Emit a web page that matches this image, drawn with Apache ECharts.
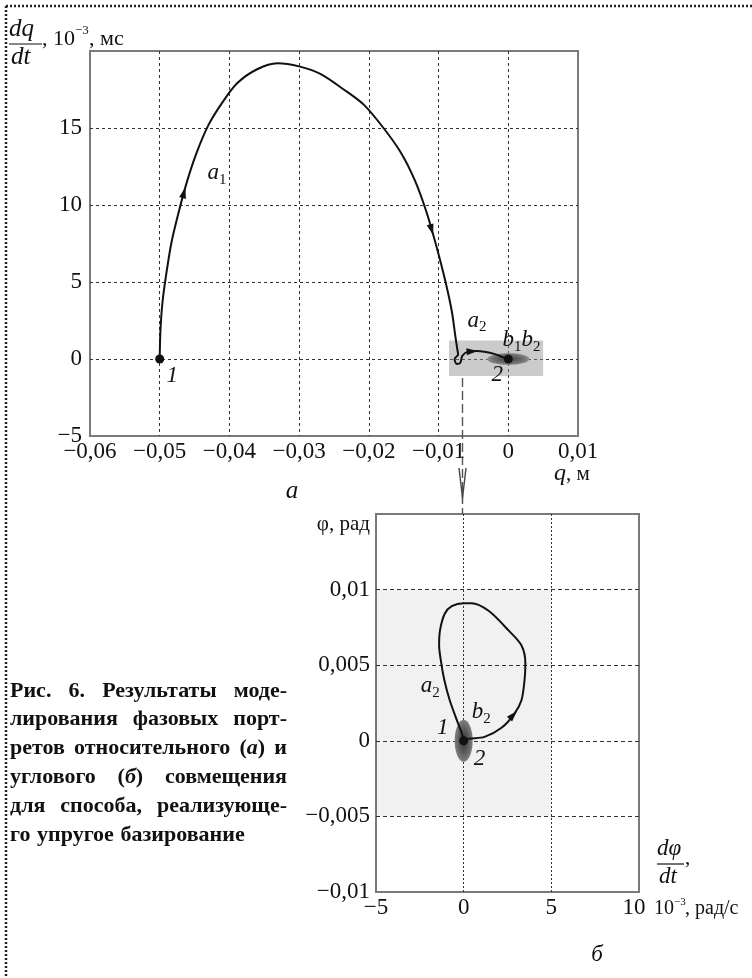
<!DOCTYPE html>
<html><head><meta charset="utf-8">
<script src="https://cdn.jsdelivr.net/npm/echarts@6/dist/echarts.min.js"></script>
<style>html,body{margin:0;padding:0;background:#fff}#c{width:752px;height:978px}</style>
</head><body><div id="c"></div>
<script>
// ---------- data ----------
const topQ = [-0.05, -0.0499, -0.0496, -0.049, -0.0483, -0.0473, -0.0461, -0.0447, -0.043, -0.0411, -0.0389, -0.0361, -0.0331, -0.030, -0.0269, -0.0236, -0.0207, -0.0179, -0.0154, -0.0134, -0.0117, -0.0103, -0.009, -0.0081, -0.0076, -0.0073, -0.0072, -0.0077, -0.0074, -0.0069, -0.0066, -0.0058, -0.0046, -0.0032, -0.0018, -0.0008, 0];
const topDQ = [0, 1.8, 3.7, 5.7, 7.6, 9.5, 11.5, 13.4, 15.2, 16.6, 17.9, 18.8, 19.2, 19.0, 18.5, 17.5, 16.5, 15.0, 13.4, 11.6, 9.5, 7.3, 5.0, 3.1, 1.5, 0.6, 0.3, 0, -0.32, -0.26, 0.2, 0.48, 0.52, 0.45, 0.3, 0.12, 0];
const botDPhi = [0, 0.28, 1.19, 2.16, 2.9, 3.3, 3.47, 3.52, 3.3, 2.56, 1.42, 0.45, 0, -0.68, -1.08, -1.35, -1.4, -1.3, -1.1, -0.8, -0.4, -0.11, 0];
const botPhi = [0, 0.00013, 0.00026, 0.00086, 0.0018, 0.0027, 0.004, 0.0051, 0.0063, 0.0073, 0.0086, 0.0091, 0.0091, 0.0089, 0.0084, 0.0073, 0.0063, 0.0053, 0.004, 0.0027, 0.0014, 0.0005, 0];
const startPoint = [-0.05, 0];
const endPoint = [0, 0];
const topXTicks = ['−0,06', '−0,05', '−0,04', '−0,03', '−0,02', '−0,01', '0', '0,01'];
const topYTicks = ['−5', '0', '5', '10', '15', ''];
const botXTicks = ['−5', '0', '5', '10'];
const botYTicks = ['−0,01', '−0,005', '0', '0,005', '0,01', ''];
const captionLines = [
  ['Рис.', '6.', 'Результаты', 'моде-'],
  ['лирования', 'фазовых', 'порт-'],
  ['ретов', 'относительного', '(а)', 'и'],
  ['углового', '(б)', 'совмещения'],
  ['для', 'способа,', 'реализующе-'],
  ['го', 'упругое', 'базирование']
];

// ---------- styles ----------
const FF = 'Liberation Serif';
const INK = '#111';
const tickFont = {fontFamily: FF, fontSize: 23, color: INK};
function grid2(o) { return Object.assign({show: true, borderColor: '#7a7a7a', borderWidth: 2, backgroundColor: 'transparent'}, o); }
function splitL(dash) { return {show: true, showMinLine: false, showMaxLine: false, lineStyle: {color: '#333', width: 1, type: dash}}; }

const richSub = {
  i: {fontFamily: FF, fontStyle: 'italic', fontSize: 23, color: INK},
  s: {fontFamily: FF, fontSize: 15, color: INK, padding: [14, 0, 0, 0]}
};

function T(x, y, text, o) {
  return {type: 'text', x: x, y: y, z: 100, style: Object.assign({text: text, fontFamily: FF, fontSize: 21, fill: INK, align: 'left', verticalAlign: 'middle'}, o || {})};
}
function L(x1, y1, x2, y2, o) {
  return {type: 'line', z: 100, shape: {x1: x1, y1: y1, x2: x2, y2: y2}, style: Object.assign({stroke: INK, lineWidth: 1.2}, o || {})};
}

// caption justification
const CAPF = 22;
const ctx = document.createElement('canvas').getContext('2d');
ctx.font = 'bold ' + CAPF + 'px "Liberation Serif"';
const capEls = [];
const capX0 = 10, capX1 = 287, capY0 = 691, capDY = 28.8;
captionLines.forEach((words, li) => {
  const widths = words.map(w => ctx.measureText(w).width);
  const total = widths.reduce((a, b) => a + b, 0);
  const last = li === captionLines.length - 1;
  const gap = last ? ctx.measureText(' ').width * 1.2 : (capX1 - capX0 - total) / (words.length - 1);
  let x = capX0;
  words.forEach((w, wi) => {
    const m = w.match(/^\((.)\)$/);
    const st = {fontWeight: 'bold', fontSize: CAPF};
    let el;
    if (m) {
      el = T(x, capY0 + li * capDY, '{b|(}{bi|' + m[1] + '}{b|)}', Object.assign(st, {rich: {
        b: {fontFamily: FF, fontWeight: 'bold', fontSize: CAPF, color: INK},
        bi: {fontFamily: FF, fontWeight: 'bold', fontStyle: 'italic', fontSize: CAPF, color: INK}
      }}));
    } else {
      el = T(x, capY0 + li * capDY, w, st);
    }
    capEls.push(el);
    x += widths[wi] + gap;
  });
});

const labelSeries = (ai, data) => ({type: 'scatter', xAxisIndex: ai, yAxisIndex: ai, z: 7, symbolSize: 0, silent: true,
  itemStyle: {opacity: 1},
  label: {show: true, position: 'inside', formatter: p => p.name, rich: richSub, color: INK, opacity: 1},
  data: data});

const option = {
  backgroundColor: '#fff',
  animation: false,
  grid: [
    grid2({left: 90, top: 51, width: 488, height: 385}),
    grid2({left: 376, top: 514, width: 263, height: 378})
  ],
  xAxis: [
    {gridIndex: 0, type: 'value', min: -0.06, max: 0.01, interval: 0.01,
     axisLine: {show: false}, axisTick: {show: false}, splitLine: splitL([3, 3]),
     axisLabel: Object.assign({margin: 4, formatter: (v, i) => topXTicks[i]}, tickFont)},
    {gridIndex: 1, type: 'value', min: -5, max: 10, interval: 5,
     axisLine: {show: false}, axisTick: {show: false}, splitLine: splitL([2, 2]),
     axisLabel: Object.assign({margin: 4,
       formatter: (v, i) => i === botXTicks.length - 1 ? '{r|' + botXTicks[i] + '}' : botXTicks[i],
       rich: {r: {fontFamily: FF, fontSize: 23, color: INK, padding: [0, 10, 0, 0]}}}, tickFont)}
  ],
  yAxis: [
    {gridIndex: 0, type: 'value', min: -5, max: 20, interval: 5,
     axisLine: {show: false}, axisTick: {show: false}, splitLine: splitL([3, 3]),
     axisLabel: Object.assign({margin: 8, formatter: (v, i) => topYTicks[i]}, tickFont)},
    {gridIndex: 1, type: 'value', min: -0.01, max: 0.015, interval: 0.005,
     axisLine: {show: false}, axisTick: {show: false}, splitLine: splitL([4, 3]),
     axisLabel: Object.assign({margin: 6, formatter: (v, i) => botYTicks[i]}, tickFont)}
  ],
  series: [
    {type: 'line', xAxisIndex: 0, yAxisIndex: 0, z: 3, symbol: 'none', smooth: 0.3,
     data: topQ.map((q, i) => [q, topDQ[i]]), lineStyle: {color: INK, width: 2},
     markArea: {silent: true, itemStyle: {color: 'rgba(140,140,140,0.45)'},
       data: [[{coord: [-0.0085, -1.1]}, {coord: [0.005, 1.2]}]]}},
    {type: 'scatter', xAxisIndex: 0, yAxisIndex: 0, z: 2, symbol: 'circle', symbolSize: [42, 12],
     itemStyle: {opacity: 1, color: {type: 'radial', x: 0.5, y: 0.5, r: 0.5, colorStops: [{offset: 0, color: '#444'}, {offset: 0.7, color: '#6e6e6e'}, {offset: 1, color: '#8e8e8e'}]}},
     data: [endPoint]},
    {type: 'scatter', xAxisIndex: 0, yAxisIndex: 0, z: 5, symbolSize: 9, itemStyle: {color: '#111', opacity: 1},
     data: [startPoint, endPoint]},
    {id: 'arrTop', type: 'scatter', xAxisIndex: 0, yAxisIndex: 0, z: 6, symbol: 'triangle', symbolSize: [7, 11],
     itemStyle: {color: INK, opacity: 1}, data: []},
    labelSeries(0, [
       {name: '{i|a}{s|1}', value: [-0.0418, 12.1]},
       {name: '{i|a}{s|2}', value: [-0.0045, 2.5]},
       {name: '{i|b}{s|1}{i|b}{s|2}', value: [0.0019, 1.25]},
       {name: '{i|1}', value: [-0.0482, -1.1]},
       {name: '{i|2}', value: [-0.0016, -1.05]}
    ]),
    {type: 'line', xAxisIndex: 1, yAxisIndex: 1, z: 3, symbol: 'none', smooth: 0.3,
     data: botDPhi.map((v, i) => [v, botPhi[i]]), lineStyle: {color: INK, width: 2},
     markArea: {silent: true, itemStyle: {color: 'rgba(0,0,0,0.055)'},
       data: [[{coord: [-5, -0.005]}, {coord: [5, 0.01]}]]}},
    {type: 'scatter', xAxisIndex: 1, yAxisIndex: 1, z: 2, symbol: 'circle', symbolSize: [18, 42],
     itemStyle: {opacity: 1, color: {type: 'radial', x: 0.5, y: 0.5, r: 0.5, colorStops: [{offset: 0, color: '#333'}, {offset: 0.6, color: '#5e5e5e'}, {offset: 1, color: '#808080'}]}},
     data: [endPoint]},
    {type: 'scatter', xAxisIndex: 1, yAxisIndex: 1, z: 5, symbolSize: 9, itemStyle: {color: '#111', opacity: 1},
     data: [endPoint]},
    {id: 'arrBot', type: 'scatter', xAxisIndex: 1, yAxisIndex: 1, z: 6, symbol: 'triangle', symbolSize: [7, 11],
     itemStyle: {color: INK, opacity: 1}, data: []},
    labelSeries(1, [
       {name: '{i|a}{s|2}', value: [-1.9, 0.0036]},
       {name: '{i|b}{s|2}', value: [1.0, 0.0019]},
       {name: '{i|1}', value: [-1.2, 0.00086]},
       {name: '{i|2}', value: [0.9, -0.0012]}
    ])
  ],
  graphic: [
    // page dotted frame
    L(6, 6, 752, 6, {stroke: '#222', lineWidth: 2.5, lineDash: [2, 2]}),
    L(6, 6, 6, 978, {stroke: '#222', lineWidth: 2.5, lineDash: [2, 2]}),
    // top y name
    T(9, 29, 'dq', {fontStyle: 'italic', fontSize: 25}),
    L(9, 44, 42, 44),
    T(11, 57, 'dt', {fontStyle: 'italic', fontSize: 25}),
    T(42, 39, ', 10', {fontSize: 22}),
    T(75, 31, '−3', {fontSize: 13}),
    T(89, 39, ', мс', {fontSize: 22}),
    // top x name
    T(572, 474, '{i|q}{n|, м}', {align: 'center', rich: {i: {fontFamily: FF, fontStyle: 'italic', fontSize: 24, color: INK}, n: {fontFamily: FF, fontSize: 21, color: INK}}}),
    T(292, 491, 'а', {fontStyle: 'italic', fontSize: 25, align: 'center'}),
    // connector
    L(462.5, 378, 462.5, 514, {stroke: '#555', lineWidth: 1.4, lineDash: [9, 4]}),
    {type: 'polyline', z: 100, shape: {points: [[459, 468], [462.5, 498], [466, 468]]}, style: {stroke: '#444', lineWidth: 1.4, fill: 'none'}},
    // bottom y name
    T(370, 524, 'φ, рад', {fontSize: 21, align: 'right'}),
    // bottom x name
    T(657, 849, 'dφ', {fontStyle: 'italic', fontSize: 23}),
    L(657, 864, 684, 864),
    T(659, 877, 'dt', {fontStyle: 'italic', fontSize: 23}),
    T(685, 858, ',', {fontSize: 21}),
    T(654, 909, '10', {fontSize: 20}),
    T(674, 902, '−3', {fontSize: 11}),
    T(685, 909, ', рад/с', {fontSize: 20}),
    T(597, 955, 'б', {fontStyle: 'italic', fontSize: 23, align: 'center'})
  ].concat(capEls)
};

const chart = echarts.init(document.getElementById('c'));
chart.setOption(option);

function arrowData(ai, xs, ys, specs) {
  return specs.map(s => {
    const a = [xs[s.k], ys[s.k]], b = [xs[s.k + 1], ys[s.k + 1]];
    const p = [a[0] + s.t * (b[0] - a[0]), a[1] + s.t * (b[1] - a[1])];
    const pa = chart.convertToPixel({xAxisIndex: ai, yAxisIndex: ai}, a);
    const pb = chart.convertToPixel({xAxisIndex: ai, yAxisIndex: ai}, b);
    const ang = Math.atan2(pb[0] - pa[0], -(pb[1] - pa[1])) * 180 / Math.PI;
    return {value: p, symbolRotate: -ang};
  });
}
chart.setOption({series: [
  {id: 'arrTop', data: arrowData(0, topQ, topDQ, [{k: 5, t: 0.65}, {k: 20, t: 0.5}, {k: 31, t: 0.5}])},
  {id: 'arrBot', data: arrowData(1, botDPhi, botPhi, [{k: 3, t: 0.9}])}
]});
</script>
</body></html>
